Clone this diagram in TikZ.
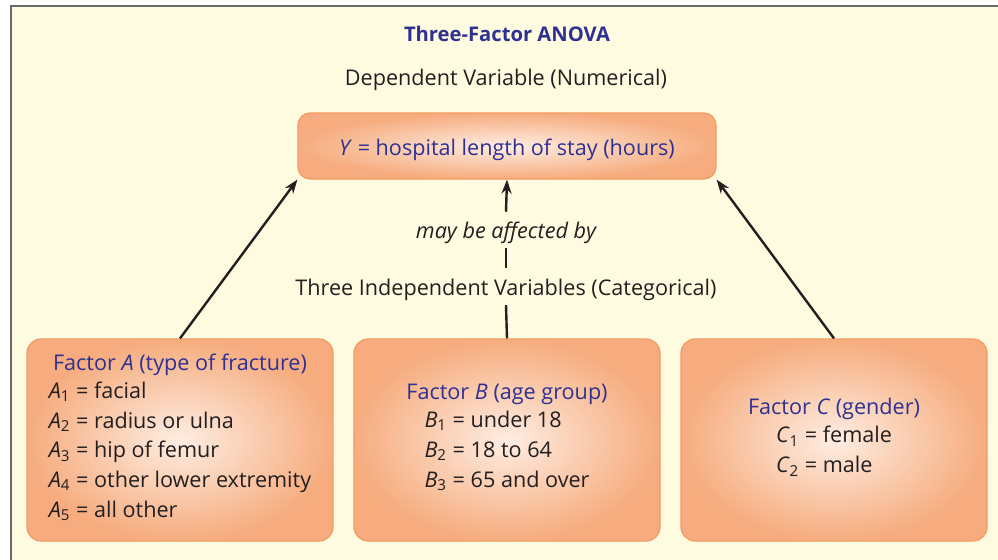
\documentclass[tikz,border=0pt]{standalone}
\usepackage{fontspec}
\setmainfont{Open Sans}
\usetikzlibrary{positioning,arrows.meta,shapes,calc}

\definecolor{panelbg}{HTML}{FFFBE0}
\definecolor{framegray}{HTML}{6A6A6A}
\definecolor{boxedge}{HTML}{F39B60}
\definecolor{boxouter}{HTML}{F6AC7E}
\definecolor{boxinner}{HTML}{FEEDE2}
\definecolor{headblue}{HTML}{2E3192}
\definecolor{inkblack}{HTML}{231F20}

\begin{document}
\begin{tikzpicture}[
    x=0.5pt, y=-0.5pt,
    every node/.style={text=inkblack},
    factorbox/.style={rectangle, rounded corners=7pt, draw=boxedge, line width=0.6pt,
        inner color=boxinner, outer color=boxouter, minimum width=153pt, minimum height=101pt,
        align=center, font=\fontsize{10.8}{14.9}\selectfont},
    label/.style={font=\fontsize{10.8}{12}\selectfont, inner sep=0pt},
    link/.style={line width=1.2pt, draw=inkblack},
    arrow/.style={link, -{Stealth[length=7pt, width=5pt]}}
]
\useasboundingbox (0,0) rectangle (998,559);
\clip (0,0) rectangle (998,559);

% Panel
\fill[panelbg] (11,6) rectangle (1010,570);
\draw[framegray, line width=1pt] (11,570) -- (11,6) -- (1010,6);

% Title
\node[font=\fontsize{10.1}{12}\selectfont\bfseries, text=headblue] (title) at (507,34) {Three-Factor ANOVA};
\node[label] (depvar) at (506,80) {Dependent Variable (Numerical)};

% Response
\node[factorbox, minimum width=209pt, minimum height=33pt, rounded corners=6pt, text=headblue] (ybox) at (507,146)
    {\rule{0pt}{12pt}\textit{Y} = hospital length of stay (hours)};

% Link text
\node[label, font=\fontsize{10.8}{12}\selectfont\itshape] (affected) at (506,233) {may be affected by};
\node[label] (indep) at (506,290) {Three Independent Variables (Categorical)};

% Factors
\node[factorbox] (factorA) at (180,440) {%
    {\color{headblue}Factor \textit{A} (type of fracture)}\\
    \begin{tabular}{@{}l@{}}
    \textit{A}\textsubscript{1} = facial\\
    \textit{A}\textsubscript{2} = radius or ulna\\
    \textit{A}\textsubscript{3} = hip of femur\\
    \textit{A}\textsubscript{4} = other lower extremity\\
    \textit{A}\textsubscript{5} = all other
    \end{tabular}};
\node[factorbox] (factorB) at (507,440) {%
    {\color{headblue}Factor \textit{B} (age group)}\\
    \begin{tabular}{@{}l@{}}
    \textit{B}\textsubscript{1} = under 18\\
    \textit{B}\textsubscript{2} = 18 to 64\\
    \textit{B}\textsubscript{3} = 65 and over
    \end{tabular}};
\node[factorbox] (factorC) at (834,440) {%
    {\color{headblue}Factor \textit{C} (gender)}\\
    \begin{tabular}{@{}l@{}}
    \textit{C}\textsubscript{1} = female\\
    \textit{C}\textsubscript{2} = male
    \end{tabular}};

% Connectors
\draw[arrow] (factorA.north) -- (ybox.south west);
\draw[arrow] (factorC.north) -- (ybox.south east);
\draw[link] (factorB.north) -- ([yshift=-2pt]indep.south);
\draw[link] ([yshift=5.5pt]indep.north) -- ([yshift=-2pt]affected.south);
\draw[arrow] ([yshift=5pt]affected.north) -- (ybox.south);

\end{tikzpicture}
\end{document}
